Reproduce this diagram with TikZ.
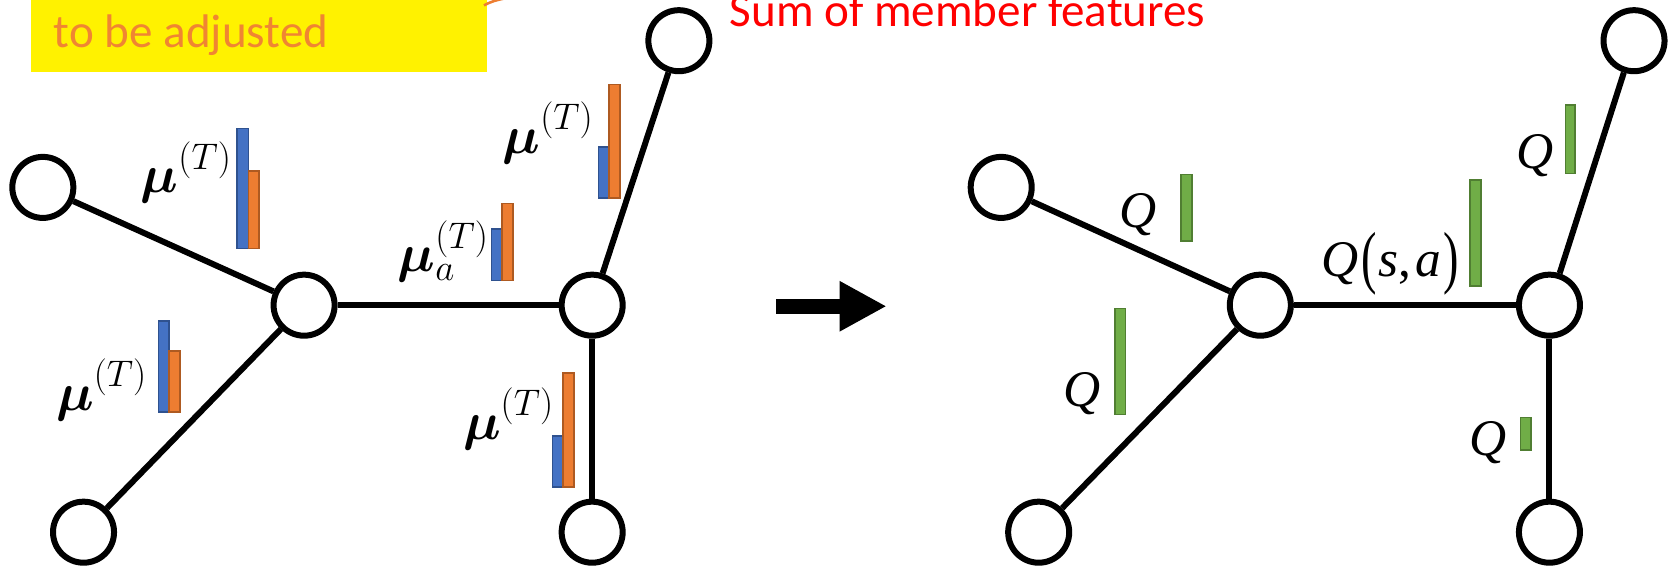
\documentclass[tikz,border=0pt]{standalone}
\usepackage{fontspec}
\usepackage{graphicx}
\usepackage{bm}
\newfontfamily\tms{Liberation Serif}
\newfontfamily\calib{Carlito}
\usetikzlibrary{arrows.meta}
\definecolor{cblue}{HTML}{4472C4}
\definecolor{cbluedk}{HTML}{2F528F}
\definecolor{corange}{HTML}{ED7D31}
\definecolor{corangedk}{HTML}{AE5A21}
\definecolor{cgreen}{HTML}{70AD47}
\definecolor{cgreendk}{HTML}{507E32}
\definecolor{ctxt}{HTML}{F08532}
\newcommand{\mymu}{{\fontsize{27}{27}\selectfont$\bm{\mu}$}}
\newcommand{\supT}{{\fontsize{16.5}{16.5}\selectfont$(T)$}}
\newcommand{\muT}{\mymu\raisebox{11pt}{\supT}}
\newcommand{\muaT}{\mymu\rlap{\raisebox{-4pt}{\fontsize{16}{16}\selectfont$a$}}\raisebox{11pt}{\supT}}
\newcommand{\Qlab}{{\tms\fontsize{24}{24}\selectfont\itshape Q}}
\newcommand{\bigpar}[1]{\raisebox{-2pt}{\scalebox{0.9}[1.35]{\tms\fontsize{24}{24}\selectfont #1}}}
\newcommand{\Qsa}{{\tms\fontsize{24}{24}\selectfont\itshape Q\kern1pt}\bigpar{(}{\tms\fontsize{24}{24}\selectfont\itshape\kern1pt s\upshape,\kern2pt\itshape a\kern1pt}\bigpar{)}}
\begin{document}
\begin{tikzpicture}[x=0.5pt,y=-0.5pt,
  nd/.style={circle,draw,line width=2.8pt,minimum size=28.5pt,inner sep=0pt,fill=white},
  edge/.style={line width=2.8pt},
  lab/.style={anchor=base west,inner sep=0pt},
  bbar/.style={fill=cblue,draw=cbluedk,line width=0.8pt},
  obar/.style={fill=corange,draw=corangedk,line width=0.8pt},
  gbar/.style={fill=cgreen,draw=cgreendk,line width=0.8pt}]
\clip (0,0) rectangle (1568,531);
\fill[white] (0,0) rectangle (1568,531);
% yellow note
\fill[yellow] (29,-5) rectangle (455,67);
\node[anchor=base west,inner sep=0pt,text=ctxt,font=\calib\fontsize{22}{22}\selectfont] (note) at (50,44) {to be adjusted};
\coordinate (c1) at (452,5);
\coordinate (c2) at (478,-3);
\draw[corange,line width=1.2pt] (c1) .. controls (460,1) .. (c2);
\node[anchor=base west,inner sep=0pt,text=red,font=\calib\fontsize{22}{22}\selectfont] (sum) at (681,25) {Sum of member features};
% left graph
\node[nd] (a1) at (40,175) {};
\node[nd] (a2) at (284,285) {};
\node[nd] (a3) at (78,497) {};
\node[nd] (a4) at (553,285) {};
\node[nd] (a5) at (634,38) {};
\node[nd] (a6) at (553,497) {};
\draw[edge] (a1) -- (a2);
\draw[edge] (a3) -- (a2);
\draw[edge] (a2) -- (a4);
\draw[edge] (a4) -- (a5);
\draw[edge] (a4) -- (a6);
% right graph
\node[nd] (b1) at (935,175) {};
\node[nd] (b2) at (1177,285) {};
\node[nd] (b3) at (970,497) {};
\node[nd] (b4) at (1447,285) {};
\node[nd] (b5) at (1526,38) {};
\node[nd] (b6) at (1447,497) {};
\draw[edge] (b1) -- (b2);
\draw[edge] (b3) -- (b2);
\draw[edge] (b2) -- (b4);
\draw[edge] (b4) -- (b5);
\draw[edge] (b4) -- (b6);
% bars left
\draw[bbar] (221,120) rectangle (232,232);
\draw[obar] (232,160) rectangle (242,232);
\draw[bbar] (559,137) rectangle (569,185);
\draw[obar] (569,79) rectangle (579,185);
\draw[bbar] (459,214) rectangle (469,262);
\draw[obar] (469,190) rectangle (479,262);
\draw[bbar] (148,300) rectangle (158,385);
\draw[obar] (158,328) rectangle (168,385);
\draw[bbar] (516,407) rectangle (526,455);
\draw[obar] (526,348) rectangle (536,455);
% bars right
\draw[gbar] (1103,163) rectangle (1113,225);
\draw[gbar] (1373,168) rectangle (1383,267);
\draw[gbar] (1462,98) rectangle (1471,162);
\draw[gbar] (1041,288) rectangle (1051,387);
\draw[gbar] (1420,390) rectangle (1430,420);
% labels left
\node[lab] (m1) at (131,180) {\muT};
\node[lab] (m2) at (469,143) {\muT};
\node[lab] (m3) at (371,254) {\muaT};
\node[lab] (m4) at (52,383) {\muT};
\node[lab] (m5) at (432,410) {\muT};
% labels right
\node[lab] (q1) at (1045,212) {\Qlab};
\node[lab] (q2) at (1234,258) {\Qsa};
\node[lab] (q3) at (1416,157) {\Qlab};
\node[lab] (q4) at (993,380) {\Qlab};
\node[lab] (q5) at (1372,425) {\Qlab};
% arrow
\coordinate (arrS) at (725,286);
\coordinate (arrE) at (828,286);
\draw[line width=7pt,-{Triangle[length=22pt,width=22pt]}] (arrS) -- (arrE);
\end{tikzpicture}
\end{document}
